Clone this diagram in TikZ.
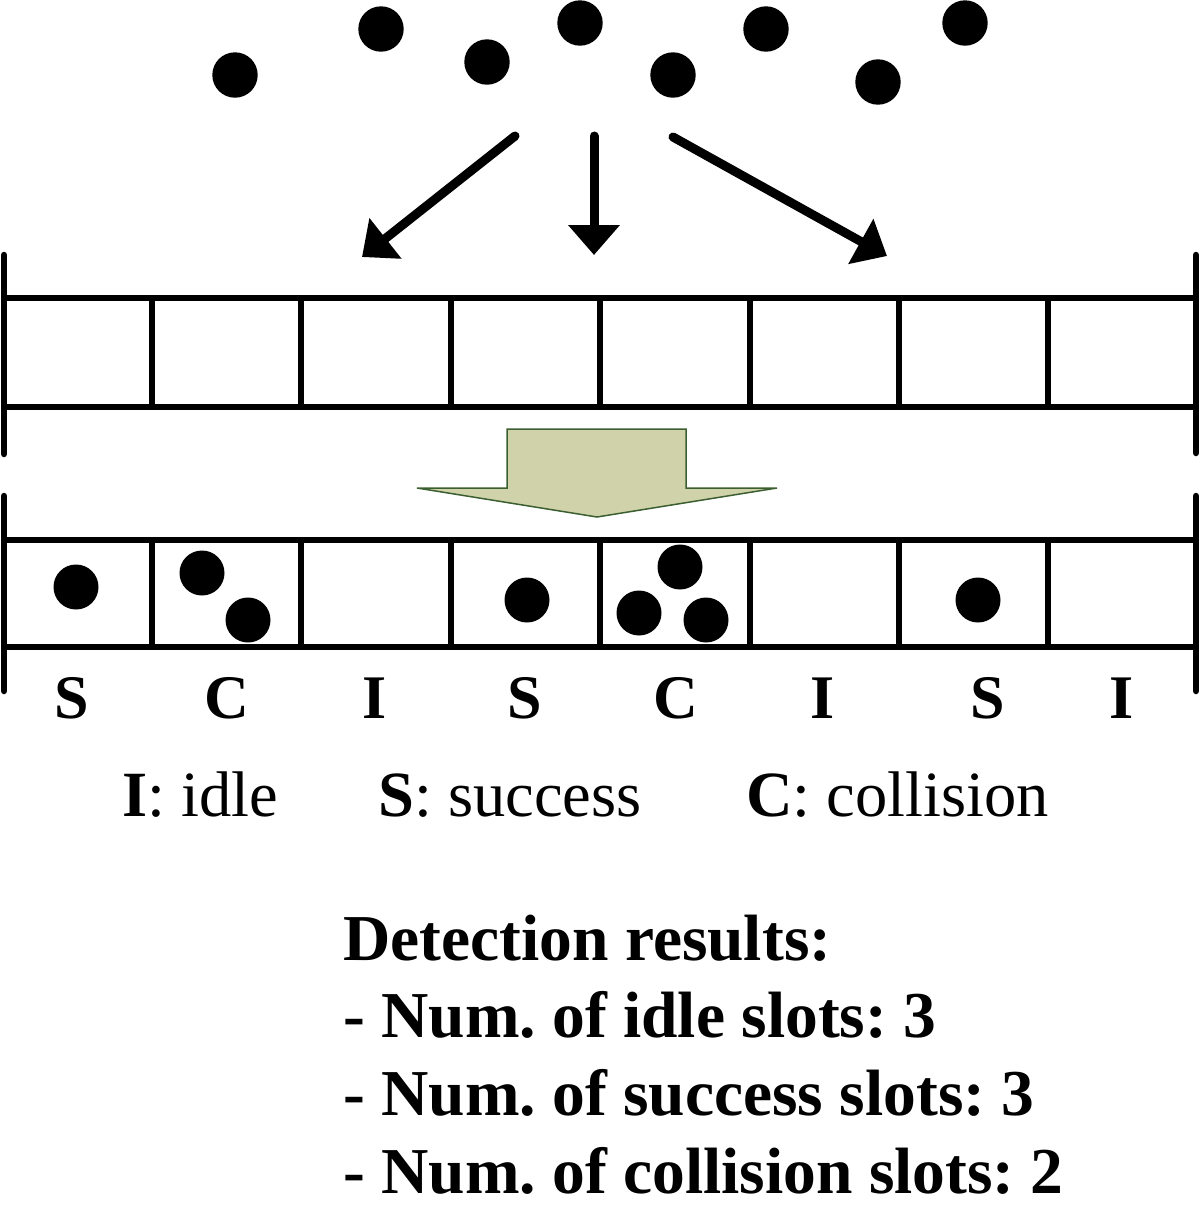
\documentclass[tikz,border=0pt]{standalone}
\usepackage{fontspec}
\setmainfont{Liberation Serif}
\usetikzlibrary{arrows.meta}
\definecolor{khaki}{RGB}{208,210,170}
\definecolor{darkgr}{RGB}{60,95,50}
\frenchspacing
\begin{document}
\begin{tikzpicture}[x=1pt,y=-1pt,
  cellline/.style={line width=6pt},
  barline/.style={line width=6.5pt,line cap=round},
  dot/.style={fill=black},
  bigarrow/.style={line width=9pt,line cap=round,-{Triangle[length=30pt,width=50pt]}},
  slotlab/.style={inner sep=0pt,anchor=base,font=\fontsize{62}{70}\selectfont\bfseries},
  legend/.style={inner sep=0pt,anchor=base west,font=\fontsize{64.5}{70}\selectfont},
  result/.style={inner sep=0pt,anchor=base west,font=\fontsize{65.5}{70}\selectfont\bfseries}]
\useasboundingbox (0,0) rectangle (1200,1211);
% top dots
\foreach \x/\y in {235/75,381/29,487/62,580/23,673/75,766/29,878/82,965/23}
  \fill[dot] (\x,\y) circle (22.7);
% arrows
\coordinate (a1s) at (515,136); \coordinate (a1e) at (362,257);
\coordinate (a2s) at (594,136); \coordinate (a2e) at (594,255);
\coordinate (a3s) at (673,137); \coordinate (a3e) at (887,256);
\draw[bigarrow] (a1s) -- (a1e);
\draw[bigarrow] (a2s) -- (a2e);
\draw[bigarrow] (a3s) -- (a3e);
% top strip
\draw[cellline] (4,298) -- (1196,298);
\draw[cellline] (4,407) -- (1196,407);
\foreach \x in {152,301,451,600,750,899,1048}
  \draw[cellline] (\x,298) -- (\x,407);
\draw[barline] (4,255) -- (4,454);
\draw[barline] (1196,255) -- (1196,453);
% big block arrow
\draw[fill=khaki,draw=darkgr,line width=1.5pt,line join=miter]
  (507,429) -- (686,429) -- (686,488) -- (777,488) -- (597,517) -- (417,488) -- (507,488) -- cycle;
% bottom strip
\draw[cellline] (4,540) -- (1196,540);
\draw[cellline] (4,647) -- (1196,647);
\foreach \x in {152,301,451,600,750,899,1048}
  \draw[cellline] (\x,540) -- (\x,647);
\draw[barline] (4,496) -- (4,691);
\draw[barline] (1196,496) -- (1196,691);
% bottom dots
\foreach \x/\y in {76/587,202/573,248/620,527/600,680/567,639/613,706/620,978/600}
  \fill[dot] (\x,\y) circle (22.5);
% slot labels
\foreach \x/\t [count=\i] in {72/S,227/C,375/I,525/S,676/C,823/I,988/S,1122/I}
  \node[slotlab] (lab\i) at (\x,718) {\t};
% legend
\node[legend] (lgI) at (122,816) {\textbf{I}: idle};
\node[legend] (lgS) at (378,816) {\textbf{S}: success};
\node[legend] (lgC) at (746,816) {\textbf{C}: collision};
% detection results
\node[result] (r0) at (343,960) {Detection results:};
\node[result] (r1) at (343,1037) {- Num. of idle slots: 3};
\node[result] (r2) at (343,1115) {- Num. of success slots: 3};
\node[result] (r3) at (343,1193) {- Num. of collision slots: 2};
\end{tikzpicture}
\end{document}
